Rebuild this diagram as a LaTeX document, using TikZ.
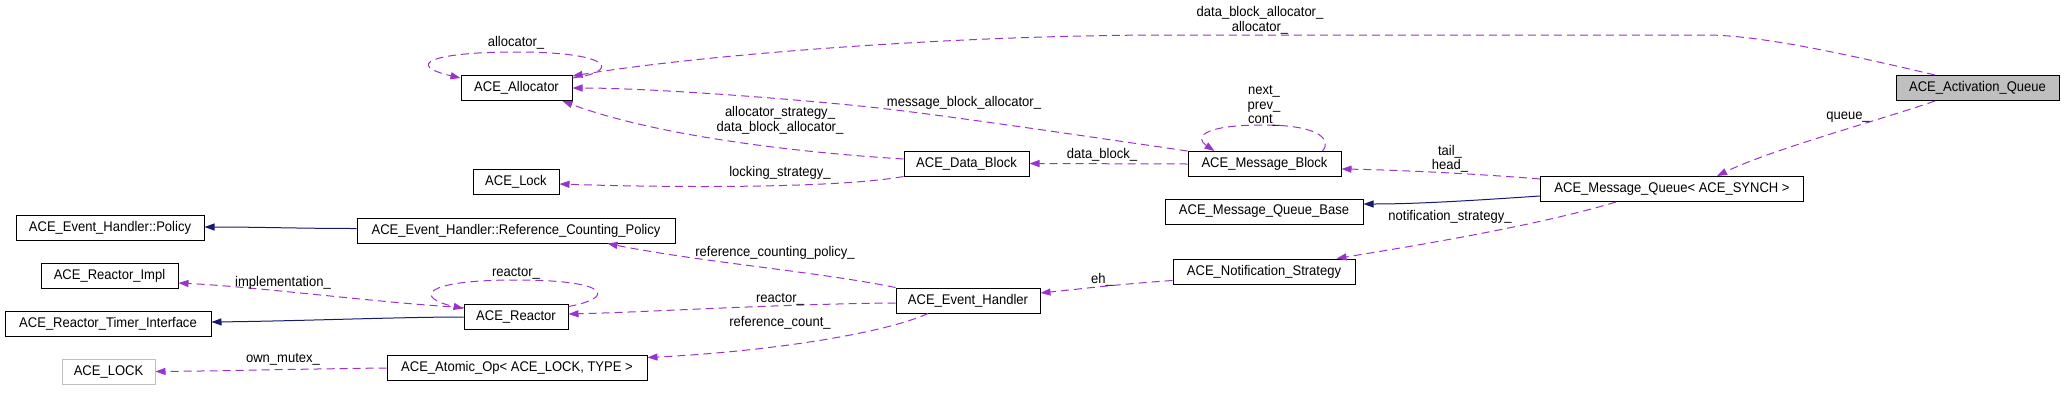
\documentclass[tikz,border=0pt]{standalone}
\usepackage{fontspec}
\setmainfont{Liberation Sans}
\newfontfamily\dfont[FakeStretch=0.93]{Liberation Sans}
\usetikzlibrary{arrows.meta}
\definecolor{orchid}{RGB}{154,50,205}
\definecolor{mnblue}{RGB}{25,25,112}
\definecolor{greyse}{RGB}{191,191,191}
\begin{document}
\begin{tikzpicture}[x=1pt,y=-1pt,
  cls/.style={draw=black, line width=1pt, minimum height=25pt, inner sep=0pt, font=\dfont\fontsize{14}{15}\selectfont},
  uses/.style={draw=orchid, line width=1pt, dash pattern=on 8pt off 5pt, -{Triangle[length=10pt,width=7pt]}},
  inh/.style={draw=mnblue, line width=1pt, -{Triangle[length=10pt,width=7pt]}},
  lbl/.style={font=\dfont\fontsize{14}{14.5}\selectfont, align=center, inner sep=0pt}]
\useasboundingbox (0,0) rectangle (2064,400);

% nodes
\node[cls, minimum width=111pt] (alloc) at (516.5,88) {ACE\_Allocator};
\node[cls, minimum width=86pt] (lock) at (516,182) {ACE\_Lock};
\node[cls, minimum width=188pt] (pol) at (110,228) {ACE\_Event\_Handler::Policy};
\node[cls, minimum width=318pt] (rcp) at (516,230.5) {ACE\_Event\_Handler::Reference\_Counting\_Policy};
\node[cls, minimum width=137pt] (ri) at (109.5,276) {ACE\_Reactor\_Impl};
\node[cls, minimum width=206pt] (ti) at (108,323.5) {ACE\_Reactor\_Timer\_Interface};
\node[cls, minimum width=104pt] (reactor) at (516,316.5) {ACE\_Reactor};
\node[cls, draw=greyse, minimum width=93pt] (lk) at (108.5,371.5) {ACE\_LOCK};
\node[cls, minimum width=260pt] (ao) at (517,367.5) {ACE\_Atomic\_Op< ACE\_LOCK, TYPE >};
\node[cls, minimum width=125pt] (db) at (966.5,163.5) {ACE\_Data\_Block};
\node[cls, minimum width=153pt] (mb) at (1264.5,164) {ACE\_Message\_Block};
\node[cls, minimum width=198pt] (mqb) at (1264,211.5) {ACE\_Message\_Queue\_Base};
\node[cls, minimum width=182pt] (ns) at (1264,271.5) {ACE\_Notification\_Strategy};
\node[cls, minimum width=144pt] (eh) at (968,300.5) {ACE\_Event\_Handler};
\node[cls, minimum width=263pt] (mq) at (1672,189) {ACE\_Message\_Queue< ACE\_SYNCH >};
\node[cls, fill=greyse, minimum width=163pt] (act) at (1977.5,88) {ACE\_Activation\_Queue};

% edges
\draw[uses] ([xshift=-42.5pt]act.north) .. controls (1850,55) and (1760,35) .. (1706,35) -- (1170,35) .. controls (950,35) and (700,55) .. ([yshift=-1pt]alloc.north east);
\node[lbl] (l1) at (1260,20.5) {data\_block\_allocator\_\\allocator\_};

\draw[uses] ([yshift=-3pt]alloc.north east) .. controls (620,72) and (615,52) .. (516,52) .. controls (430,52) and (405,65) .. ([yshift=-3pt]alloc.north west);
\node[lbl] (l2) at (516,43) {allocator\_};

\draw[uses] (mb.north west) .. controls (1030,128) and (920,112) .. (860,106) .. controls (760,96) and (640,88) .. (alloc.east);
\node[lbl] (l3) at (964,103) {message\_block\_allocator\_};

\draw[uses] ([yshift=4.5pt]db.west) .. controls (760,150) and (640,130) .. ([xshift=-10pt]alloc.south east);
\node[lbl] (l4) at (780,120.5) {allocator\_strategy\_\\data\_block\_allocator\_};

\draw[uses] (db.south west) .. controls (840,188) and (680,188) .. ([yshift=-2pt]lock.east);
\node[lbl] (l5) at (780,173) {locking\_strategy\_};

\draw[uses] (mb.west) -- (db.east);
\node[lbl] (l6) at (1102,155) {data\_block\_};

\draw[uses] ([xshift=-19pt]mb.north east) .. controls (1332,140) and (1320,125) .. (1264,125) .. controls (1200,125) and (1195,138) .. ([xshift=27pt]mb.north west);
\node[lbl] (l7) at (1264,106) {next\_\\prev\_\\cont\_};

\draw[uses] ([yshift=-3pt]mq.north west) .. controls (1480,174) and (1400,170) .. ([yshift=-5pt]mb.east);
\node[lbl] (l8) at (1450,159) {tail\_\\head\_};

\draw[inh] ([yshift=-7pt]mq.west) .. controls (1480,200) and (1420,204) .. ([yshift=7.5pt]mqb.east);

\draw[uses] ([xshift=-56pt]mq.south) .. controls (1540,225) and (1420,245) .. ([xshift=-19pt]ns.north east);
\node[lbl] (l10) at (1450,217) {notification\_strategy\_};

\draw[uses] ([yshift=-9pt]ns.west) .. controls (1120,284) and (1070,290) .. ([yshift=7.5pt]eh.east);
\node[lbl] (l11) at (1102,280) {eh\_};

\draw[uses] (eh.north west) .. controls (820,272) and (700,262) .. ([xshift=-68pt]rcp.south east);
\node[lbl] (l12) at (775,253) {reference\_counting\_policy\_};

\draw[uses] ([yshift=-2.5pt]eh.west) .. controls (780,304) and (650,312) .. ([yshift=2.5pt]reactor.east);
\node[lbl] (l13) at (780,299) {reactor\_};

\draw[uses] ([xshift=-40pt]eh.south) .. controls (880,335) and (760,352) .. ([yshift=-3pt]ao.north east);
\node[lbl] (l14) at (780,323) {reference\_count\_};

\draw[uses] ([yshift=9pt]reactor.west) .. controls (380,303) and (260,287) .. ([yshift=-7pt]ri.east);
\node[lbl] (l15) at (283,283) {implementation\_};

\draw[uses] ([yshift=10pt]reactor.east) .. controls (615,298) and (612,280) .. (516,280) .. controls (420,280) and (415,298) .. ([yshift=8pt]reactor.west);
\node[lbl] (l16) at (516,273) {reactor\_};

\draw[inh] ([yshift=-0.5pt]reactor.west) .. controls (400,317) and (300,321) .. ([yshift=1.5pt]ti.east);

\draw[inh] ([yshift=2pt]rcp.west) .. controls (300,228.5) and (260,227) .. ([yshift=1pt]pol.east);

\draw[uses] ([yshift=-0.5pt]ao.west) .. controls (300,369) and (220,371) .. (lk.east);
\node[lbl] (l19) at (283,359) {own\_mutex\_};

\draw[uses] ([xshift=-42.5pt]act.south) .. controls (1880,120) and (1770,150) .. ([xshift=45pt]mq.north);
\node[lbl] (l20) at (1848,117) {queue\_};
\end{tikzpicture}
\end{document}
